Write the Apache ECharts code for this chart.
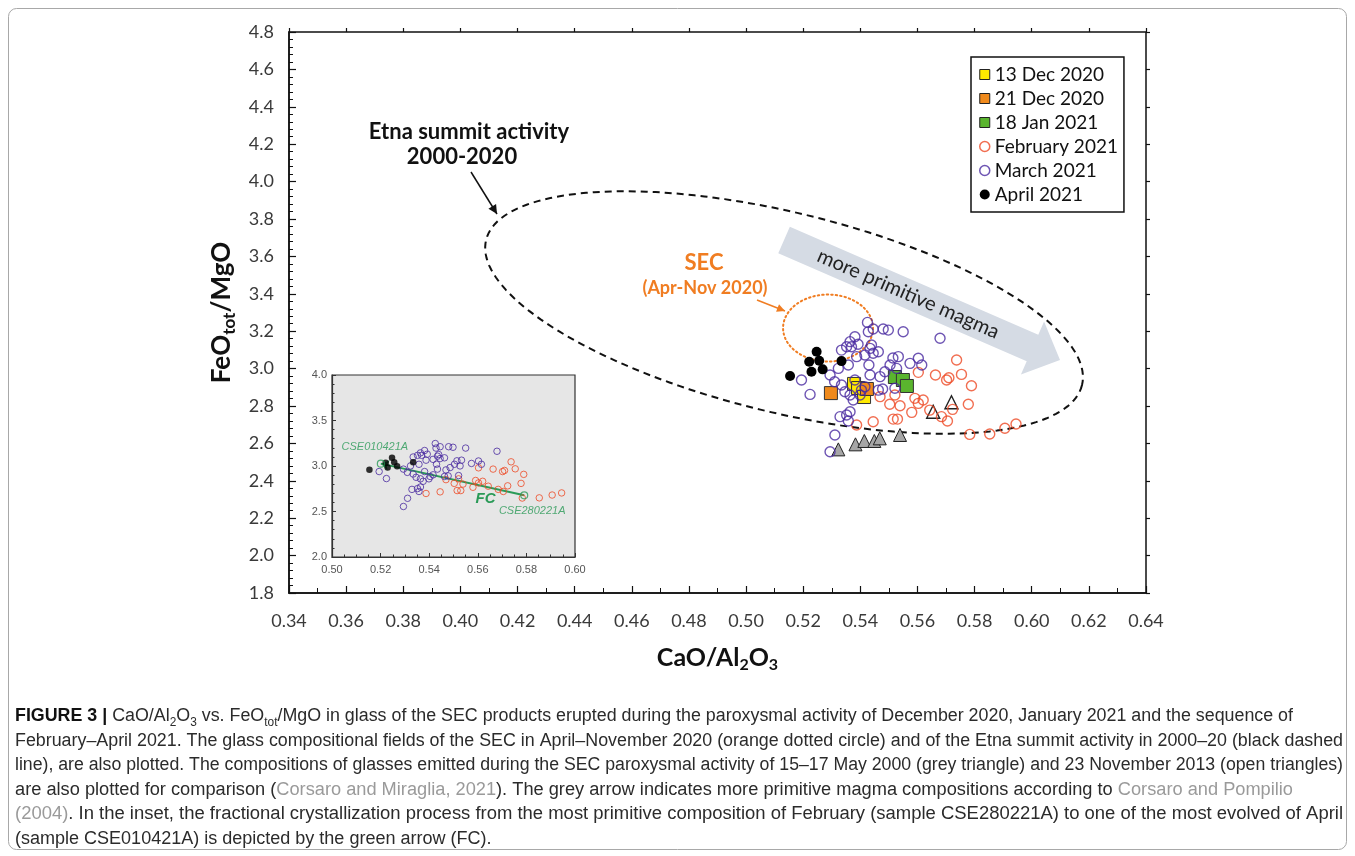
<!DOCTYPE html>
<html><head><meta charset="utf-8">
<script src="https://cdn.jsdelivr.net/npm/echarts@6/dist/echarts.min.js"></script>
<style>html,body{margin:0;padding:0;background:#fff}#c{width:1355px;height:856px}</style>
</head><body><div id="c"></div>
<script>
// ---------------- DATA ----------------
const xTickValues = [0.34,0.36,0.38,0.40,0.42,0.44,0.46,0.48,0.50,0.52,0.54,0.56,0.58,0.60,0.62,0.64];
const yTickValues = [1.8,2.0,2.2,2.4,2.6,2.8,3.0,3.2,3.4,3.6,3.8,4.0,4.2,4.4,4.6,4.8];
const insetXTickValues = [0.50,0.52,0.54,0.56,0.58,0.60];
const insetYTickValues = [2.0,2.5,3.0,3.5,4.0];

const dec13X = [0.5378, 0.5392, 0.5413];
const dec13Y = [2.918, 2.896, 2.848];
const dec21X = [0.5297, 0.5423];
const dec21Y = [2.869, 2.891];
const jan18X = [0.5521, 0.5549, 0.5563];
const jan18Y = [2.955, 2.939, 2.907];

const febX = [0.5737,0.5754,0.5710,0.5663,0.5789,0.5603,0.5521,0.5503,0.5539,0.5591,0.5620,0.5603,0.5684,0.5705,0.5580,0.5515,0.5530,0.5778,0.5723,0.5783,0.5853,0.5906,0.5945,0.5469,0.5445,0.5387,0.5702,0.5643];
const febY = [3.046,2.969,2.951,2.966,2.908,2.980,2.859,2.809,2.801,2.841,2.832,2.814,2.743,2.720,2.766,2.730,2.730,2.809,2.782,2.648,2.650,2.681,2.704,2.850,2.716,2.698,2.939,2.778];

const marX = [0.5425,0.5428,0.5445,0.5480,0.5498,0.5550,0.5679,0.5381,0.5364,0.5352,0.5334,0.5369,0.5439,0.5434,0.5463,0.5416,0.5387,0.5430,0.5358,0.5323,0.5294,0.5194,0.5224,0.5469,0.5486,0.5334,0.5346,0.5364,0.5463,0.5478,0.5375,0.5329,0.5352,0.5364,0.5358,0.5311,0.5294,0.5533,0.5603,0.5615,0.5504,0.5527,0.5574,0.5521,0.5404,0.5434,0.5381,0.5416,0.5514,0.5399,0.5392,0.5445,0.5310];
const marY = [3.247,3.197,3.212,3.212,3.206,3.197,3.162,3.170,3.144,3.117,3.099,3.117,3.126,3.108,3.090,3.073,3.064,3.019,3.019,3.001,2.966,2.939,2.862,2.957,2.983,2.912,2.876,2.859,2.885,2.891,2.832,2.743,2.752,2.769,2.720,2.645,2.555,3.064,3.055,3.019,3.019,3.001,3.028,2.895,2.885,2.966,2.939,2.903,3.057,2.859,3.130,3.082,2.930];

const aprX = [0.5154,0.5221,0.5247,0.5256,0.5229,0.5268,0.5334];
const aprY = [2.960,3.037,3.090,3.042,2.983,2.996,3.040];

const may2000X = [0.5323,0.5383,0.5414,0.5449,0.5468,0.5539];
const may2000Y = [2.568,2.595,2.613,2.613,2.627,2.645];
const nov2013X = [0.5655,0.5719];
const nov2013Y = [2.769,2.820];

const sampleNames = ['CSE280221A','CSE010421A'];
const sampleX = [0.5791, 0.5201];
const sampleY = [2.678, 3.026];

// annotation anchors in data units (main axes)
const etnaFieldAxisEnds = [[0.409, 3.688],[0.6176, 2.912]];
const etnaFieldMinorRatio = 0.326;
const secFieldCenter = [0.5287, 3.217];
const secFieldRadii = [0.01575, 0.179];
const primitiveArrow = [[0.5133, 3.688],[0.6099, 3.046]];

// ---------------- STYLE ----------------
const C_FEB = '#ee4a26', C_MAR = '#4a2aa0', C_GREEN = '#2a9a57', C_SEC = '#f07d22';
const FONT = 'Lato, "Open Sans", sans-serif';
const NARROW = '"Liberation Sans Narrow", "Liberation Sans", Arial, sans-serif';

function zip(xs, ys){ return xs.map((x,i)=>[x, ys[i]]); }
function step(a){ return Math.round((a[1]-a[0])*1000)/1000; }

const chart = echarts.init(document.getElementById('c'), null, {renderer:'canvas'});

const hollow = (c)=>({color:'rgba(255,255,255,0)', borderColor:c, borderWidth:1.4});
const noEmph = {disabled:true};

const xMain = {type:'value', gridIndex:0, min:xTickValues[0], max:xTickValues[xTickValues.length-1], interval:step(xTickValues)};
const yMain = {type:'value', gridIndex:0, min:yTickValues[0], max:yTickValues[yTickValues.length-1], interval:step(yTickValues)};
const outsideTicks = {axisLine:{show:false}, axisLabel:{show:false}, splitLine:{show:false},
  axisTick:{inside:false, length:4, lineStyle:{color:'#111', width:1.2}}, minorTick:{show:false}};

const option = {
  animation:false,
  backgroundColor:'#fff',
  grid:[
    {left:289, top:32, right:209, bottom:263, show:true, borderColor:'#111', borderWidth:1.5, backgroundColor:'transparent'},
    {left:332, top:375, width:243, height:182, show:true, borderColor:'#333', borderWidth:1.2, backgroundColor:'#e6e6e6'}
  ],
  xAxis:[
    Object.assign({}, xMain, {
     name:'CaO/Al{s|2}O{s|3}', nameLocation:'middle', nameGap:50,
     nameTextStyle:{fontFamily:FONT, fontSize:25, fontWeight:'bold', color:'#111',
       rich:{s:{fontFamily:FONT, fontSize:16, fontWeight:'bold', color:'#111', verticalAlign:'bottom', lineHeight:30}}},
     axisLine:{lineStyle:{color:'#111', width:1.5}},
     axisTick:{inside:true, length:7, lineStyle:{color:'#111', width:1.2}},
     minorTick:{show:true, splitNumber:2, length:5, lineStyle:{color:'#111', width:1}},
     splitLine:{show:false},
     axisLabel:{margin:19, fontFamily:FONT, fontSize:18, color:'#3a3a3a', formatter:v=>v.toFixed(2)}}),
    {type:'value', gridIndex:1, min:insetXTickValues[0], max:insetXTickValues[insetXTickValues.length-1], interval:step(insetXTickValues),
     axisLine:{lineStyle:{color:'#333', width:1.2}},
     axisTick:{inside:true, length:4, lineStyle:{color:'#333'}},
     minorTick:{show:true, splitNumber:4, length:2.5, lineStyle:{color:'#333'}},
     splitLine:{show:false},
     axisLabel:{margin:7, fontFamily:NARROW, fontSize:11, color:'#555', formatter:v=>v.toFixed(2)}},
    Object.assign({}, xMain, outsideTicks)
  ],
  yAxis:[
    Object.assign({}, yMain, {
     name:'FeO{s|tot}/MgO', nameLocation:'middle', nameGap:50, nameRotate:90,
     nameTextStyle:{fontFamily:FONT, fontSize:26, fontWeight:'bold', color:'#111',
       rich:{s:{fontFamily:FONT, fontSize:17, fontWeight:'bold', color:'#111', verticalAlign:'bottom', lineHeight:32}}},
     axisLine:{lineStyle:{color:'#111', width:1.5}},
     axisTick:{inside:true, length:7, lineStyle:{color:'#111', width:1.2}},
     minorTick:{show:true, splitNumber:5, length:4, lineStyle:{color:'#111', width:1}},
     splitLine:{show:false},
     axisLabel:{margin:15, fontFamily:FONT, fontSize:18, color:'#3a3a3a', formatter:v=>v.toFixed(1)}}),
    {type:'value', gridIndex:1, min:insetYTickValues[0], max:insetYTickValues[insetYTickValues.length-1], interval:step(insetYTickValues),
     axisLine:{lineStyle:{color:'#333', width:1.2}},
     axisTick:{inside:true, length:4, lineStyle:{color:'#333'}},
     minorTick:{show:true, splitNumber:5, length:2.5, lineStyle:{color:'#333'}},
     splitLine:{show:false},
     axisLabel:{margin:5, fontFamily:NARROW, fontSize:11, color:'#555', formatter:v=>v.toFixed(1)}},
    Object.assign({}, yMain, outsideTicks)
  ],
  legend:{
    orient:'vertical', left:971, top:57, padding:[8,6,8,8], itemGap:5, itemWidth:10, itemHeight:10,
    borderColor:'#111', borderWidth:1.5, selectedMode:false,
    textStyle:{fontFamily:FONT, fontSize:19, color:'#111', lineHeight:19},
    data:[
      {name:'13 Dec 2020', icon:'rect', itemStyle:{color:'#ffea00', borderColor:'#222', borderWidth:1}},
      {name:'21 Dec 2020', icon:'rect', itemStyle:{color:'#f08a1c', borderColor:'#222', borderWidth:1}},
      {name:'18 Jan 2021', icon:'rect', itemStyle:{color:'#5ab52e', borderColor:'#222', borderWidth:1}},
      {name:'February 2021', icon:'circle', itemStyle:{color:'#fff', borderColor:C_FEB, borderWidth:1.5}},
      {name:'March 2021', icon:'circle', itemStyle:{color:'#fff', borderColor:C_MAR, borderWidth:1.5}},
      {name:'April 2021', icon:'circle', itemStyle:{color:'#000', borderColor:'#000', borderWidth:0}}
    ]
  },
  series:[
    {name:'13 Dec 2020', type:'scatter', symbol:'rect', symbolSize:13, data:zip(dec13X,dec13Y), emphasis:noEmph,
     itemStyle:{color:'#ffea00', borderColor:'#333', borderWidth:1, opacity:1}},
    {name:'21 Dec 2020', type:'scatter', symbol:'rect', symbolSize:13, data:zip(dec21X,dec21Y), emphasis:noEmph,
     itemStyle:{color:'#f08a1c', borderColor:'#333', borderWidth:1, opacity:1}},
    {name:'18 Jan 2021', type:'scatter', symbol:'rect', symbolSize:13, data:zip(jan18X,jan18Y), emphasis:noEmph,
     itemStyle:{color:'#5ab52e', borderColor:'#333', borderWidth:1, opacity:1}},
    {name:'15–17 May 2000', type:'scatter', symbol:'triangle', symbolSize:13, data:zip(may2000X,may2000Y), emphasis:noEmph,
     itemStyle:{color:'#a6a6a6', borderColor:'#222', borderWidth:1, opacity:1}},
    {name:'23 Nov 2013', type:'scatter', symbol:'triangle', symbolSize:13, data:zip(nov2013X,nov2013Y), emphasis:noEmph,
     itemStyle:{color:'#fff', borderColor:'#222', borderWidth:1.4, opacity:1}},
    {name:'February 2021', type:'scatter', symbol:'circle', symbolSize:10, data:zip(febX,febY), emphasis:noEmph,
     itemStyle:hollow(C_FEB)},
    {name:'March 2021', type:'scatter', symbol:'circle', symbolSize:10, data:zip(marX,marY), emphasis:noEmph,
     itemStyle:hollow(C_MAR)},
    {name:'April 2021', type:'scatter', symbol:'circle', symbolSize:10, data:zip(aprX,aprY), emphasis:noEmph,
     itemStyle:{color:'#000', opacity:1}},
    // inset
    {name:'inset Feb', type:'scatter', xAxisIndex:1, yAxisIndex:1, symbol:'circle', symbolSize:6.5, data:zip(febX,febY), emphasis:noEmph,
     itemStyle:{color:'rgba(0,0,0,0)', borderColor:C_FEB, borderWidth:1}},
    {name:'inset Mar', type:'scatter', xAxisIndex:1, yAxisIndex:1, symbol:'circle', symbolSize:6.5, data:zip(marX,marY), emphasis:noEmph,
     itemStyle:{color:'rgba(0,0,0,0)', borderColor:C_MAR, borderWidth:1}},
    {name:'inset Apr', type:'scatter', xAxisIndex:1, yAxisIndex:1, symbol:'circle', symbolSize:6.5, data:zip(aprX,aprY), emphasis:noEmph,
     itemStyle:{color:'#000'}},
    {name:'FC', type:'lines', coordinateSystem:'cartesian2d', xAxisIndex:1, yAxisIndex:1, symbol:['none','arrow'], symbolSize:8,
     lineStyle:{color:C_GREEN, width:2, opacity:1, curveness:0}, emphasis:noEmph,
     data:[{coords:[[sampleX[0],sampleY[0]],[sampleX[1],sampleY[1]]]}]},
    {name:'samples', type:'scatter', xAxisIndex:1, yAxisIndex:1, symbol:'circle', symbolSize:7, emphasis:noEmph,
     itemStyle:{color:'rgba(255,255,255,0)', borderColor:C_GREEN, borderWidth:1.2},
     data:sampleNames.map((n,i)=>({name:n, value:[sampleX[i],sampleY[i]],
       label:{show:true, formatter:'{b}', position: i===0 ? 'bottom' : 'top', distance: i===0 ? 6 : 7,
              offset: i===0 ? [8,0] : [-6,0],
              fontFamily:NARROW, fontStyle:'italic', fontSize:11, color:C_GREEN}}))}
  ]
};
chart.setOption(option);

// ---------------- ANNOTATIONS ----------------
function P(pt, gi){ return chart.convertToPixel({gridIndex:gi||0}, pt); }
function ellipsePts(c, a, b, th, n){
  const pts=[];
  for(let i=0;i<n;i++){ const t=2*Math.PI*i/n, x=a*Math.cos(t), y=b*Math.sin(t);
    pts.push([c[0]+x*Math.cos(th)-y*Math.sin(th), c[1]+x*Math.sin(th)+y*Math.cos(th)]); }
  return pts;
}
function arrowHead(p1, p2, len, half){
  const dx=p2[0]-p1[0], dy=p2[1]-p1[1], L=Math.hypot(dx,dy), ux=dx/L, uy=dy/L;
  const bx=p2[0]-ux*len, by=p2[1]-uy*len;
  return [[p2[0],p2[1]],[bx-uy*half, by+ux*half],[bx+uy*half, by-ux*half]];
}
const g = [];
// Etna dashed field
{
  const a1=P(etnaFieldAxisEnds[0]), a2=P(etnaFieldAxisEnds[1]);
  const c=[(a1[0]+a2[0])/2,(a1[1]+a2[1])/2], a=Math.hypot(a2[0]-a1[0],a2[1]-a1[1])/2;
  const th=Math.atan2(a2[1]-a1[1], a2[0]-a1[0]);
  g.push({type:'polygon', z:1, shape:{points:ellipsePts(c,a,a*etnaFieldMinorRatio,th,180)},
          style:{fill:'none', stroke:'#111', lineWidth:2, lineDash:[7,5]}});
}
// SEC dotted field
{
  const c=P(secFieldCenter), ex=P([secFieldCenter[0]+secFieldRadii[0], secFieldCenter[1]]), ey=P([secFieldCenter[0], secFieldCenter[1]+secFieldRadii[1]]);
  g.push({type:'polygon', z:1, shape:{points:ellipsePts(c, Math.abs(ex[0]-c[0]), Math.abs(ey[1]-c[1]), 0, 120)},
          style:{fill:'none', stroke:C_SEC, lineWidth:2, lineDash:[1.5,3], lineCap:'round'}});
}
// grey arrow
{
  const t=P(primitiveArrow[0]), h=P(primitiveArrow[1]);
  const dx=h[0]-t[0], dy=h[1]-t[1], L=Math.hypot(dx,dy), ux=dx/L, uy=dy/L, nx=-uy, ny=ux;
  const bh=14.5, hh=29, hl=30, bx=h[0]-ux*hl, by=h[1]-uy*hl;
  g.push({type:'polygon', z:1, shape:{points:[
     [t[0]+nx*bh,t[1]+ny*bh],[bx+nx*bh,by+ny*bh],[bx+nx*hh,by+ny*hh],[h[0],h[1]],
     [bx-nx*hh,by-ny*hh],[bx-nx*bh,by-ny*bh],[t[0]-nx*bh,t[1]-ny*bh]]},
     style:{fill:'#d5dbe4', stroke:'none'}});
  const mx=t[0]+ux*(L-hl)/2, my=t[1]+uy*(L-hl)/2;
  g.push({type:'text', z:5, x:mx, y:my, rotation:-Math.atan2(dy,dx),
     style:{text:'more primitive magma', font:'20px '+FONT, fill:'#222', align:'center', verticalAlign:'middle'}});
}
// Etna label + arrow
g.push({type:'text', z:5, x:469, y:132, style:{text:'Etna summit activity', font:'bold 22px '+FONT, fill:'#111', align:'center', verticalAlign:'middle'}});
g.push({type:'text', z:5, x:462, y:157, style:{text:'2000-2020', font:'bold 22px '+FONT, fill:'#111', align:'center', verticalAlign:'middle'}});
{
  const p1=[471,172], p2=[497,214];
  g.push({type:'line', z:5, shape:{x1:p1[0],y1:p1[1],x2:p2[0],y2:p2[1]}, style:{stroke:'#111', lineWidth:1.5}});
  g.push({type:'polygon', z:5, shape:{points:arrowHead(p1,p2,9,4.5)}, style:{fill:'#111'}});
}
// SEC label + arrow
g.push({type:'text', z:5, x:704, y:263, style:{text:'SEC', font:'bold 22px '+FONT, fill:C_SEC, align:'center', verticalAlign:'middle'}});
g.push({type:'text', z:5, x:705, y:288, style:{text:'(Apr-Nov 2020)', font:'bold 18px '+FONT, fill:C_SEC, align:'center', verticalAlign:'middle'}});
{
  const p1=[757,300], p2=[785,311];
  g.push({type:'line', z:5, shape:{x1:p1[0],y1:p1[1],x2:p2[0],y2:p2[1]}, style:{stroke:C_SEC, lineWidth:1.5}});
  g.push({type:'polygon', z:5, shape:{points:arrowHead(p1,p2,8,4)}, style:{fill:C_SEC}});
}
// FC label in inset
{
  const m=P([(sampleX[0]+sampleX[1])/2,(sampleY[0]+sampleY[1])/2],1);
  g.push({type:'text', z:5, x:m[0]+33, y:m[1]+19, style:{text:'FC', font:'italic bold 15px '+NARROW, fill:C_GREEN, align:'center', verticalAlign:'middle'}});
}
// outer frame
g.push({type:'rect', z:0, shape:{x:8.5, y:8.5, width:1338, height:841, r:8}, style:{fill:'none', stroke:'#a8a8a8', lineWidth:1}});

// caption
const capFont = 18;
const capLines = [
  {t:'{b|FIGURE 3 |} CaO/Al{s|2}O{s|3} vs. FeO{s|tot}/MgO in glass of the SEC products erupted during the paroxysmal activity of December 2020, January 2021 and the sequence of', w:1278},
  {t:'February–April 2021. The glass compositional fields of the SEC in April–November 2020 (orange dotted circle) and of the Etna summit activity in 2000–20 (black dashed', w:1328},
  {t:'line), are also plotted. The compositions of glasses emitted during the SEC paroxysmal activity of 15–17 May 2000 (grey triangle) and 23 November 2013 (open triangles)', w:1328},
  {t:'are also plotted for comparison ({g|Corsaro and Miraglia, 2021}). The grey arrow indicates more primitive magma compositions according to {g|Corsaro and Pompilio}', w:1278},
  {t:'{g|(2004)}. In the inset, the fractional crystallization process from the most primitive composition of February (sample CSE280221A) to one of the most evolved of April', w:1328},
  {t:'(sample CSE010421A) is depicted by the green arrow (FC).', w:null}
];
const mctx = document.createElement('canvas').getContext('2d');
function measureRich(s){
  let w=0; const re=/\{(\w+)\|([^}]*)\}/g; let last=0, m;
  const norm = 'normal '+capFont+'px '+NARROW;
  while((m=re.exec(s))){
    mctx.font=norm; w+=mctx.measureText(s.slice(last,m.index)).width;
    mctx.font = m[1]==='b' ? 'bold '+capFont+'px '+NARROW : (m[1]==='s' ? '12px '+NARROW : norm);
    w+=mctx.measureText(m[2]).width; last=re.lastIndex;
  }
  mctx.font=norm; w+=mctx.measureText(s.slice(last)).width;
  return w;
}
let scales=[];
capLines.forEach(l=>{ if(l.w){ scales.push(l.w/measureRich(l.t)); } });
const avgScale = scales.reduce((a,b)=>a+b,0)/scales.length;
capLines.forEach((l,i)=>{
  const sc = l.w ? l.w/measureRich(l.t) : avgScale;
  g.push({type:'text', z:5, x:15, y:716+i*24.6, scaleX:sc, scaleY:1,
    style:{text:l.t, font:capFont+'px '+NARROW, fill:'#2b2b2b', align:'left', verticalAlign:'middle',
      rich:{b:{fontWeight:'bold', fontSize:capFont, fontFamily:NARROW, fill:'#111'},
            s:{fontSize:12, fontFamily:NARROW, fill:'#2b2b2b', verticalAlign:'bottom', lineHeight:25},
            g:{fontSize:capFont, fontFamily:NARROW, fill:'#9a9a9a'}}}});
});

chart.setOption({graphic:{elements:g}});
</script>
</body></html>
